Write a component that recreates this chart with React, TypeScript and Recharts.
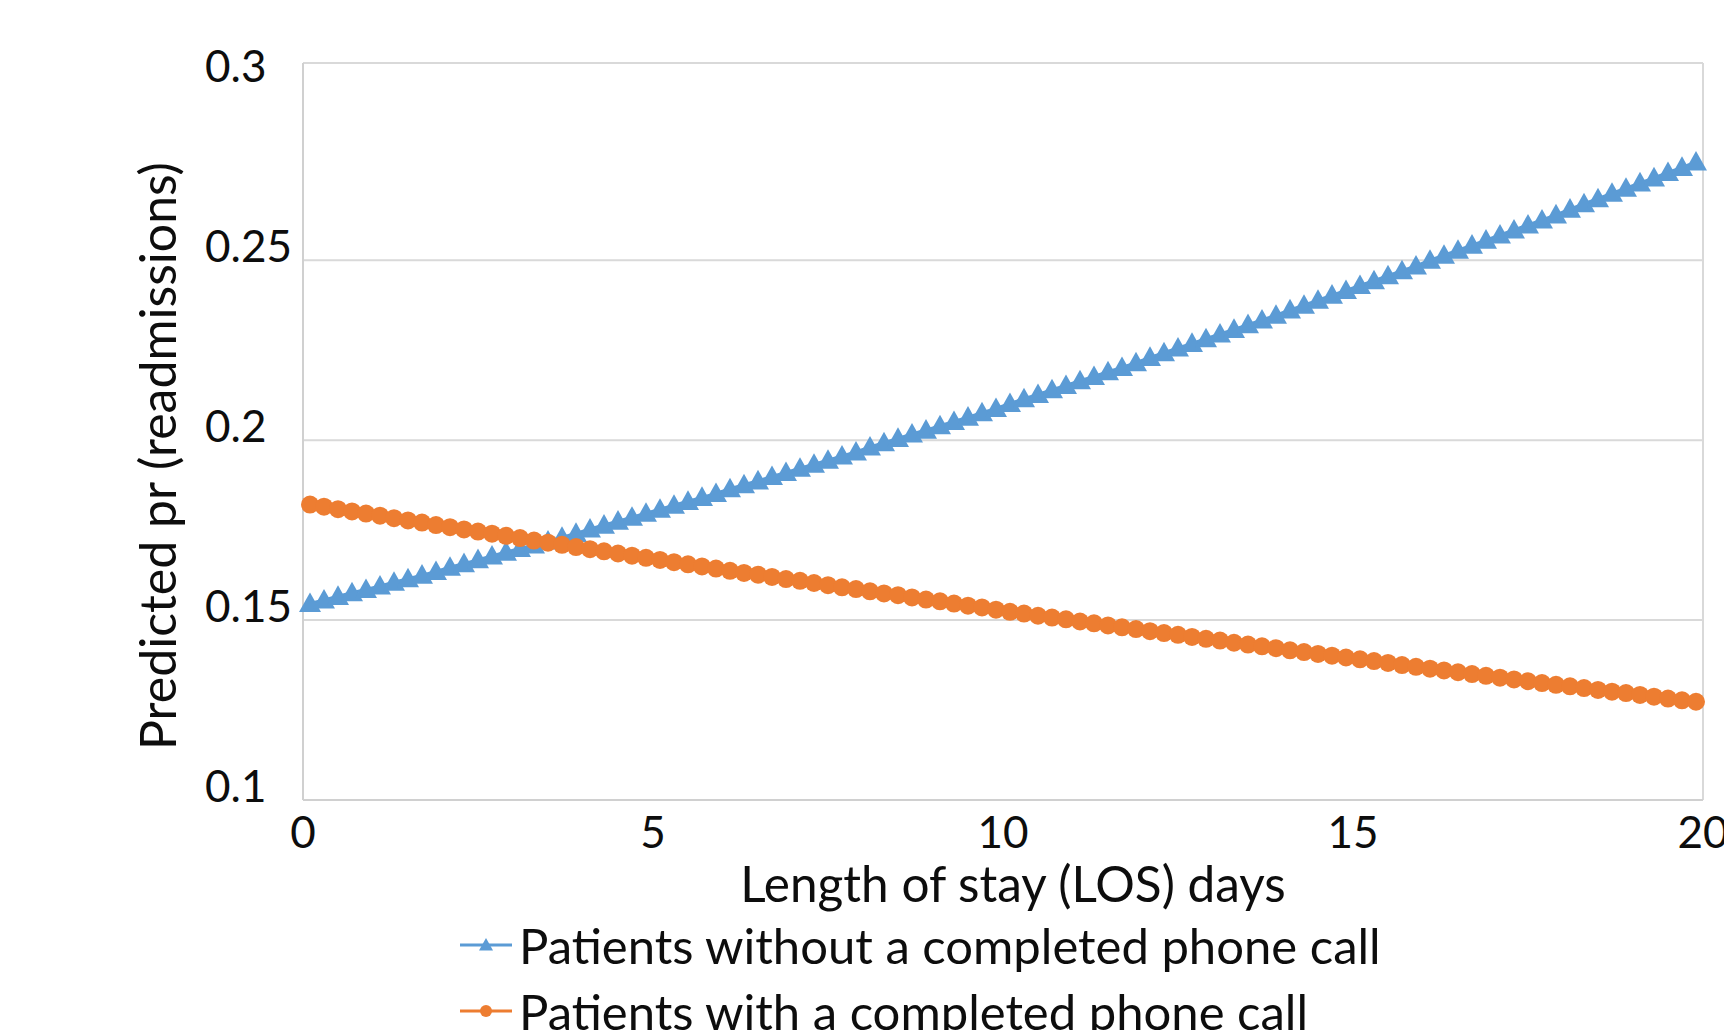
import React from 'react';
import { LineChart, Line, XAxis, YAxis, CartesianGrid, Legend, Label } from 'recharts';

const losDays = [
  0.1, 0.3, 0.5, 0.7, 0.9, 1.1, 1.3, 1.5, 1.7, 1.9,
  2.1, 2.3, 2.5, 2.7, 2.9, 3.1, 3.3, 3.5, 3.7, 3.9,
  4.1, 4.3, 4.5, 4.7, 4.9, 5.1, 5.3, 5.5, 5.7, 5.9,
  6.1, 6.3, 6.5, 6.7, 6.9, 7.1, 7.3, 7.5, 7.7, 7.9,
  8.1, 8.3, 8.5, 8.7, 8.9, 9.1, 9.3, 9.5, 9.7, 9.9,
  10.1, 10.3, 10.5, 10.7, 10.9, 11.1, 11.3, 11.5, 11.7, 11.9,
  12.1, 12.3, 12.5, 12.7, 12.9, 13.1, 13.3, 13.5, 13.7, 13.9,
  14.1, 14.3, 14.5, 14.7, 14.9, 15.1, 15.3, 15.5, 15.7, 15.9,
  16.1, 16.3, 16.5, 16.7, 16.9, 17.1, 17.3, 17.5, 17.7, 17.9,
  18.1, 18.3, 18.5, 18.7, 18.9, 19.1, 19.3, 19.5, 19.7, 19.9,
];

const withoutCall = [
  0.1546, 0.1556, 0.1566, 0.1576, 0.1585, 0.1595, 0.1605, 0.1615, 0.1625, 0.1635,
  0.1647, 0.1657, 0.1668, 0.1678, 0.1689, 0.1699, 0.1709, 0.1720, 0.1730, 0.1741,
  0.1753, 0.1764, 0.1775, 0.1786, 0.1797, 0.1808, 0.1819, 0.1830, 0.1841, 0.1852,
  0.1865, 0.1876, 0.1887, 0.1899, 0.1910, 0.1922, 0.1933, 0.1944, 0.1956, 0.1967,
  0.1981, 0.1993, 0.2005, 0.2017, 0.2028, 0.2040, 0.2052, 0.2064, 0.2076, 0.2088,
  0.2102, 0.2115, 0.2127, 0.2140, 0.2152, 0.2165, 0.2177, 0.2190, 0.2202, 0.2215,
  0.2230, 0.2243, 0.2256, 0.2269, 0.2282, 0.2295, 0.2308, 0.2321, 0.2334, 0.2347,
  0.2362, 0.2375, 0.2389, 0.2403, 0.2416, 0.2430, 0.2443, 0.2457, 0.2471, 0.2484,
  0.2500, 0.2514, 0.2528, 0.2542, 0.2556, 0.2570, 0.2584, 0.2598, 0.2612, 0.2626,
  0.2642, 0.2657, 0.2671, 0.2686, 0.2700, 0.2715, 0.2729, 0.2744, 0.2758, 0.2773,
];

const withCall = [
  0.1821, 0.1815, 0.1808, 0.1802, 0.1796, 0.1790, 0.1783, 0.1777, 0.1771, 0.1764,
  0.1758, 0.1752, 0.1746, 0.1740, 0.1734, 0.1728, 0.1721, 0.1715, 0.1709, 0.1703,
  0.1697, 0.1691, 0.1685, 0.1679, 0.1673, 0.1667, 0.1661, 0.1655, 0.1649, 0.1643,
  0.1637, 0.1631, 0.1626, 0.1620, 0.1614, 0.1609, 0.1603, 0.1597, 0.1591, 0.1586,
  0.1580, 0.1574, 0.1569, 0.1563, 0.1557, 0.1552, 0.1546, 0.1540, 0.1535, 0.1529,
  0.1523, 0.1518, 0.1512, 0.1507, 0.1502, 0.1496, 0.1491, 0.1485, 0.1480, 0.1475,
  0.1469, 0.1464, 0.1459, 0.1453, 0.1448, 0.1443, 0.1437, 0.1432, 0.1427, 0.1422,
  0.1416, 0.1411, 0.1406, 0.1401, 0.1396, 0.1391, 0.1386, 0.1381, 0.1375, 0.1370,
  0.1365, 0.1360, 0.1355, 0.1350, 0.1345, 0.1340, 0.1335, 0.1330, 0.1325, 0.1320,
  0.1316, 0.1311, 0.1306, 0.1301, 0.1297, 0.1292, 0.1287, 0.1282, 0.1277, 0.1273,
];

const xTicks = [0, 5, 10, 15, 20];
const yTicks = [0.1, 0.15, 0.2, 0.25, 0.3];
const yTickLabels = ['0.1', '0.15', '0.2', '0.25', '0.3'];
const gridValues = [0.15, 0.2, 0.25];
const seriesNames = ['Patients without a completed phone call', 'Patients with a completed phone call'];
const xTitle = 'Length of stay (LOS) days';
const yTitle = 'Predicted pr (readmissions)';

const X_MIN = 0;
const X_MAX = 20;
const Y_MIN = 0.1;
const Y_TOP = 0.3048;

const BLUE = '#5B9BD5';
const ORANGE = '#ED7D31';
const FONT = 'Lato, "Noto Sans", sans-serif';
const TEXT = '#0d0d0d';

const data = losDays.map((los, i) => ({ los, without: withoutCall[i], withc: withCall[i] }));

const triPath = (cx: number, cy: number, s = 11) =>
  `M${cx},${cy - s} L${cx + s},${cy + s * 0.78} L${cx - s},${cy + s * 0.78} Z`;

const TriangleDot = (props: any) => {
  const { cx, cy, index } = props;
  if (cx == null || cy == null) return <g key={`t-${index}`} />;
  return <path key={`t-${index}`} d={triPath(cx, cy)} fill={BLUE} stroke="none" />;
};

const XTick = (props: any) => {
  const { x, y, payload } = props;
  return (
    <text x={x} y={y + 31} textAnchor="middle" dominantBaseline="central" fontFamily={FONT} fontSize={44} fill={TEXT}>
      {payload.value}
    </text>
  );
};

const YTick = (props: any) => {
  const { x, y, payload } = props;
  const idx = yTicks.indexOf(payload.value);
  const label = idx >= 0 ? yTickLabels[idx] : String(payload.value);
  return (
    <text x={x - 98} y={y - 15} textAnchor="start" dominantBaseline="central" fontFamily={FONT} fontSize={44} fill={TEXT}>
      {label}
    </text>
  );
};

const LegendContent = () => (
  <div style={{ fontFamily: FONT, fontSize: 49, color: TEXT }}>
    {seriesNames.map((name, i) => (
      <div key={name} style={{ display: 'flex', alignItems: 'center', height: 66, lineHeight: '66px', whiteSpace: 'nowrap' }}>
        <svg width={52} height={20} style={{ display: 'block' }}>
          <line x1={0} y1={10} x2={52} y2={10} stroke={i === 0 ? BLUE : ORANGE} strokeWidth={3} />
          {i === 0 ? (
            <path d={triPath(26, 10, 7)} fill={BLUE} />
          ) : (
            <circle cx={26} cy={10} r={6} fill={ORANGE} />
          )}
        </svg>
        <span style={{ marginLeft: 7 }}>{name}</span>
      </div>
    ))}
  </div>
);

export default function App() {
  return (
    <div style={{ position: 'absolute', left: 0, top: 0, width: 1724, height: 1030, background: '#fff', overflow: 'hidden' }}>
      <LineChart width={1724} height={1030} data={data} margin={{ top: 63, right: 21, bottom: 0, left: 0 }}>
        <CartesianGrid
          stroke="#d9d9d9"
          strokeWidth={2}
          horizontalValues={[...gridValues, Y_TOP]}
          verticalValues={[X_MAX]}
        />
        <XAxis
          type="number"
          dataKey="los"
          domain={[X_MIN, X_MAX]}
          ticks={xTicks}
          interval={0}
          tickLine={false}
          tickSize={0}
          tickMargin={0}
          height={230}
          axisLine={{ stroke: '#d0d0d0', strokeWidth: 2 }}
          tick={<XTick />}
        >
          <Label
            content={(p: any) => {
              const vb = p.viewBox || {};
              return (
                <text x={vb.x + vb.width / 2 + 10} y={vb.y + 83} textAnchor="middle" dominantBaseline="central" fontFamily={FONT} fontSize={49.5} fill={TEXT}>
                  {xTitle}
                </text>
              );
            }}
          />
        </XAxis>
        <YAxis
          type="number"
          domain={[Y_MIN, Y_TOP]}
          ticks={yTicks}
          interval={0}
          width={303}
          tickLine={false}
          tickSize={0}
          tickMargin={0}
          axisLine={{ stroke: '#d0d0d0', strokeWidth: 2 }}
          tick={<YTick />}
        >
          <Label
            content={() => {
              const cx = 157;
              const cy = 456;
              return (
                <text x={cx} y={cy} transform={`rotate(-90 ${cx} ${cy})`} textAnchor="middle" dominantBaseline="central" fontFamily={FONT} fontSize={50} fill={TEXT}>
                  {yTitle}
                </text>
              );
            }}
          />
        </YAxis>
        <Line
          dataKey="without"
          name={seriesNames[0]}
          stroke={BLUE}
          strokeWidth={3}
          dot={TriangleDot}
          activeDot={false}
          isAnimationActive={false}
        />
        <Line
          dataKey="withc"
          name={seriesNames[1]}
          stroke={ORANGE}
          strokeWidth={3}
          dot={{ r: 9, fill: ORANGE, stroke: 'none' }}
          activeDot={false}
          isAnimationActive={false}
        />
        <Legend
          layout="vertical"
          align="center"
          verticalAlign="middle"
          content={<LegendContent />}
          wrapperStyle={{ left: 460, top: 912, width: 1100, height: 140 }}
        />
      </LineChart>
    </div>
  );
}
